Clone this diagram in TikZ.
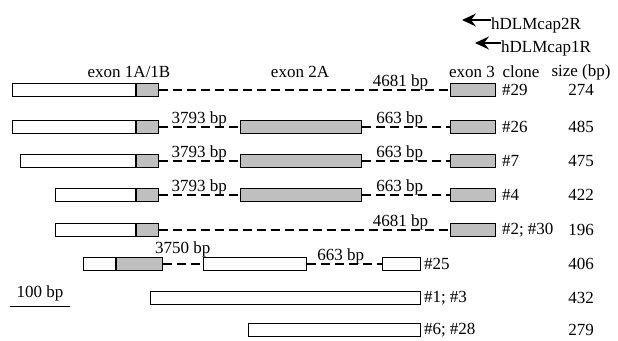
\documentclass[tikz,border=0pt]{standalone}
\usepackage{fontspec}
\setmainfont{Liberation Serif}
\usetikzlibrary{positioning,arrows.meta}

\begin{document}
\begin{tikzpicture}[x=1pt, y=-1pt, font=\fontsize{17}{20}\selectfont,
    exonbox/.style={draw, line width=0.8pt, minimum height=13pt, inner sep=0pt, anchor=west},
    wbox/.style={exonbox, fill=white},
    gbox/.style={exonbox, fill=black!25},
    intron/.style={dash pattern=on 9pt off 5pt, line width=1.5pt},
    bplabel/.style={anchor=base, inner sep=0pt, yshift=4pt},
    clonelabel/.style={anchor=west, inner sep=0pt},
    primer/.style={-{Stealth[length=14pt, width=13pt, inset=5pt]}, line width=1.6pt}]
    \useasboundingbox (0,0) rectangle (618,340);

    % Primers
    \node[anchor=west, inner sep=0pt] (p2) at (491,25) {hDLMcap2R};
    \coordinate (p2tip) at (462,20);
    \draw[primer] (p2.west |- p2tip) -- (p2tip);
    \node[anchor=west, inner sep=0pt] (p1) at (501,48) {hDLMcap1R};
    \coordinate (p1tip) at (475,43);
    \draw[primer] (p1.west |- p1tip) -- (p1tip);

    % Column headers
    \node (hE1) at (129,72) {exon 1A/1B};
    \node (hE2) at (300,72) {exon 2A};
    \node (hE3) at (472,72) {exon 3};
    \node (hClone) at (521,72) {clone};
    \node (hSize) at (581,72) {size (bp)};

    % Clone #29
    \node[wbox, minimum width=123pt] (a1) at (12,90) {};
    \node[gbox, minimum width=22pt, right=0pt of a1] (b1) {};
    \node[gbox, minimum width=45pt] (x1) at (450,90) {};
    \draw[intron] (b1.east) -- node[bplabel, pos=0.83] {4681 bp} (x1.west);
    \node[clonelabel, right=6pt of x1] (c1) {\#29};
    \node (s1) at (581,90) {274};

    % Clones #26, #7, #4
    \foreach \n/\y/\xs/\w/\cl/\sz in {2/127/12/123/\#26/485, 3/161/20/115/\#7/475, 4/195/55/80/\#4/422} {
        \node[wbox, minimum width=\w pt] (a\n) at (\xs,\y) {};
        \node[gbox, minimum width=22pt, right=0pt of a\n] (b\n) {};
        \node[gbox, minimum width=121pt] (e\n) at (240,\y) {};
        \node[gbox, minimum width=45pt] (x\n) at (450,\y) {};
        \draw[intron] (b\n.east) -- node[bplabel] {3793 bp} (e\n.west);
        \draw[intron] (e\n.east) -- node[bplabel, pos=0.43] {663 bp} (x\n.west);
        \node[clonelabel, right=6pt of x\n] (c\n) {\cl};
        \node (s\n) at (581,\y) {\sz};
    }

    % Clone #2; #30
    \node[wbox, minimum width=80pt] (a5) at (55,230) {};
    \node[gbox, minimum width=22pt, right=0pt of a5] (b5) {};
    \node[gbox, minimum width=45pt] (x5) at (450,230) {};
    \draw[intron] (b5.east) -- node[bplabel, pos=0.83] {4681 bp} (x5.west);
    \node[clonelabel, right=6pt of x5] (c5) {\#2; \#30};
    \node (s5) at (581,230) {196};

    % Clone #25
    \node[wbox, minimum width=32pt] (a6) at (83,264) {};
    \node[gbox, minimum width=46pt, right=0pt of a6] (b6) {};
    \node[wbox, minimum width=103pt] (e6) at (203,264) {};
    \node[wbox, minimum width=38pt] (x6) at (382,264) {};
    \draw[intron] (b6.east) -- node[bplabel, yshift=7pt] {3750 bp} (e6.west);
    \draw[intron] (e6.east) -- node[bplabel, pos=0.45] {663 bp} (x6.west);
    \node[clonelabel, right=3pt of x6] (c6) {\#25};
    \node (s6) at (581,264) {406};

    % Clones #1; #3 and #6; #28
    \node[wbox, minimum width=270pt] (x7) at (150,298) {};
    \node[clonelabel, right=3pt of x7] (c7) {\#1; \#3};
    \node (s7) at (581,298) {432};
    \node[wbox, minimum width=172pt] (x8) at (248,330) {};
    \node[clonelabel, right=3pt of x8] (c8) {\#6; \#28};
    \node (s8) at (581,330) {279};

    % Scale bar
    \coordinate (sb0) at (10,306);
    \coordinate (sb1) at (70,306);
    \draw[line width=1pt] (sb0) -- node[above=1pt] {100 bp} (sb1);
\end{tikzpicture}
\end{document}
